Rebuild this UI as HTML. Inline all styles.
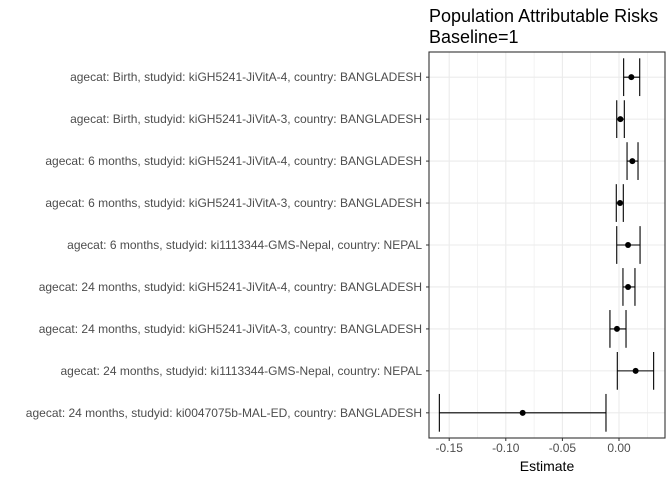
<!DOCTYPE html>
<html><head><meta charset="utf-8"><style>body{margin:0;background:#fff}svg{display:block;font-family:"Liberation Sans",sans-serif}</style></head>
<body>
<svg id="c" width="672" height="480" xmlns="http://www.w3.org/2000/svg">
<text x="429" y="22" font-size="18" fill="#000">Population Attributable Risks</text>
<text x="429" y="43" font-size="18" fill="#000">Baseline=1</text>
<text x="547" y="471" font-size="14" text-anchor="middle" fill="#000">Estimate</text>
</svg>
<script>
const categories=["agecat: Birth, studyid: kiGH5241-JiVitA-4, country: BANGLADESH","agecat: Birth, studyid: kiGH5241-JiVitA-3, country: BANGLADESH","agecat: 6 months, studyid: kiGH5241-JiVitA-4, country: BANGLADESH","agecat: 6 months, studyid: kiGH5241-JiVitA-3, country: BANGLADESH","agecat: 6 months, studyid: ki1113344-GMS-Nepal, country: NEPAL","agecat: 24 months, studyid: kiGH5241-JiVitA-4, country: BANGLADESH","agecat: 24 months, studyid: kiGH5241-JiVitA-3, country: BANGLADESH","agecat: 24 months, studyid: ki1113344-GMS-Nepal, country: NEPAL","agecat: 24 months, studyid: ki0047075b-MAL-ED, country: BANGLADESH"];
const estimates=[0.0109,0.0012,0.0118,0.0009,0.008,0.008,-0.0018,0.0147,-0.0851];
const lowerCI=[0.0041,-0.002,0.0071,-0.0024,-0.002,0.0035,-0.008,-0.0015,-0.1587];
const upperCI=[0.0183,0.0047,0.0168,0.0038,0.0186,0.0141,0.0062,0.0306,-0.0115];
const xTicks=[-0.15,-0.10,-0.05,0.00];
const xTickLabels=["-0.15","-0.10","-0.05","0.00"];
const NS="http://www.w3.org/2000/svg",svg=document.getElementById('c');
const L=429,R=665,T=52,B=438;
const x=v=>619+v*1132;
const step=(B-T)/(categories.length-1+1.2);
const y=i=>T+(0.6+i)*step;
function mk(t,a,p){const e=document.createElementNS(NS,t);for(const k in a)e.setAttribute(k,a[k]);(p||svg).appendChild(e);return e;}
const bg=mk('rect',{x:L,y:T,width:R-L,height:B-T,fill:'#fff'});


for(let i=0;i<xTicks.length;i++){
 const m=xTicks[i]+0.025;
 if(x(m)<R){const g=mk('line',{x1:x(m),x2:x(m),y1:T,y2:B,stroke:'#ebebeb','stroke-width':0.6});}
 const g=mk('line',{x1:x(xTicks[i]),x2:x(xTicks[i]),y1:T,y2:B,stroke:'#ebebeb','stroke-width':1.1});
 
 
 const tk=mk('line',{x1:x(xTicks[i]),x2:x(xTicks[i]),y1:B,y2:B+3,stroke:'#333','stroke-width':1});
 
 
 const t=mk('text',{x:x(xTicks[i]),y:B+14,'font-size':12,fill:'#4d4d4d','text-anchor':'middle'});
 t.textContent=xTickLabels[i];
 
 
}
categories.forEach((c,i)=>{
 const yy=y(i);
 const g=mk('line',{x1:L,x2:R,y1:yy,y2:yy,stroke:'#ebebeb','stroke-width':1.1});
 
 
 const tk=mk('line',{x1:L-3,x2:L,y1:yy,y2:yy,stroke:'#333'});
 
 
 const t=mk('text',{x:L-7,y:yy+4,'font-size':12,fill:'#4d4d4d','text-anchor':'end'});
 t.textContent=c;
 
 
});
categories.forEach((c,i)=>{
 const yy=y(i),h=step*0.45;
 const gr=mk('g',{stroke:'#000','stroke-width':1.1});
 
 
 mk('line',{x1:x(lowerCI[i]),x2:x(upperCI[i]),y1:yy,y2:yy},gr);
 mk('line',{x1:x(lowerCI[i]),x2:x(lowerCI[i]),y1:yy-h,y2:yy+h},gr);
 mk('line',{x1:x(upperCI[i]),x2:x(upperCI[i]),y1:yy-h,y2:yy+h},gr);
 const p=mk('circle',{cx:x(estimates[i]),cy:yy,r:3,fill:'#000'});
 
 
});
const bd=mk('rect',{x:L,y:T,width:R-L,height:B-T,fill:'none',stroke:'#333','stroke-width':1.1});


</script>
</body></html>
